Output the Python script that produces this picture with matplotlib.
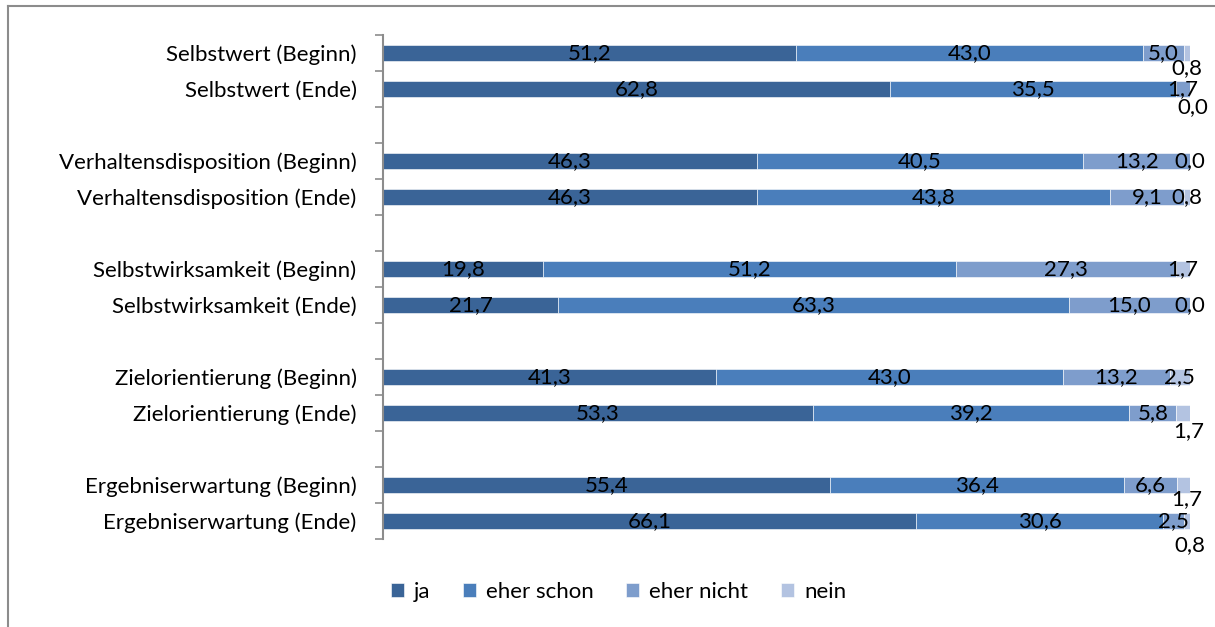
import numpy as np
import matplotlib.pyplot as plt
from matplotlib.lines import Line2D

plt.rcParams['font.family'] = ['Lato', 'DejaVu Sans']

CATEGORIES = ["Selbstwert (Beginn)", "Selbstwert (Ende)",
              "Verhaltensdisposition (Beginn)", "Verhaltensdisposition (Ende)",
              "Selbstwirksamkeit (Beginn)", "Selbstwirksamkeit (Ende)",
              "Zielorientierung (Beginn)", "Zielorientierung (Ende)",
              "Ergebniserwartung (Beginn)", "Ergebniserwartung (Ende)"]
SERIES = ["ja", "eher schon", "eher nicht", "nein"]
JA = [51.2, 62.8, 46.3, 46.3, 19.8, 21.7, 41.3, 53.3, 55.4, 66.1]
EHER_SCHON = [43.0, 35.5, 40.5, 43.8, 51.2, 63.3, 43.0, 39.2, 36.4, 30.6]
EHER_NICHT = [5.0, 1.7, 13.2, 9.1, 27.3, 15.0, 13.2, 5.8, 6.6, 2.5]
NEIN = [0.8, 0.0, 0.0, 0.8, 1.7, 0.0, 2.5, 1.7, 1.7, 0.8]

COLORS = ["#3A6497", "#4A7EBB", "#7E9DCC", "#B3C3E1"]
FS = 16

# label nudges in points (category index, series index) -> (dx, dy)
NUDGE = {(0, 3): (0, -11), (1, 3): (2, -13), (7, 3): (4, -13),
         (8, 3): (2, -10), (9, 3): (2, -17)}

fig = plt.figure(figsize=(12.15, 6.27), dpi=100)
ax = fig.add_axes([383 / 1215, 1 - 539 / 627, 807 / 1215, 504 / 627])

# slots: two bars per group, one empty slot between groups
slots = []
for g in range(5):
    slots += [3 * g, 3 * g + 1]
slots = np.array(slots)

values = np.array([JA, EHER_SCHON, EHER_NICHT, NEIN])
left = np.zeros(len(CATEGORIES))
for s, (name, col) in enumerate(zip(SERIES, COLORS)):
    ax.barh(slots, values[s], left=left, height=0.42, color=col,
            edgecolor="white", linewidth=0.4, label=name)
    for i, v in enumerate(values[s]):
        dx, dy = NUDGE.get((i, s), (0, 0))
        ax.annotate(f"{v:.1f}".replace(".", ","),
                    (left[i] + v / 2, slots[i]), xytext=(dx, dy),
                    textcoords="offset points", ha="center", va="center",
                    fontsize=FS, color="black")
    left += values[s]

ax.set_xlim(0, 100)
ax.set_ylim(13.5, -0.5)
ax.set_yticks(slots)
ax.set_yticklabels(CATEGORIES, fontsize=FS)
ax.tick_params(axis="y", length=0, pad=19)
ax.set_yticks(np.arange(-0.5, 14, 1), minor=True)
ax.tick_params(axis="y", which="minor", length=6, color="#8C8C8C", width=1.2)
ax.set_xticks([])
for sp in ["top", "right", "bottom"]:
    ax.spines[sp].set_visible(False)
ax.spines["left"].set_color("#8C8C8C")
ax.spines["left"].set_linewidth(1.5)

fig.legend(loc="center", bbox_to_anchor=(0.509, 1 - 592 / 627), ncol=4,
           frameon=False, fontsize=FS, handlelength=0.6, handleheight=0.6,
           handletextpad=0.45, columnspacing=1.45)

# chart area border (left and top only visible)
fig.add_artist(Line2D([8 / 1215, 8 / 1215], [0, 1 - 6 / 627], color="#8C8C8C", lw=1.5))
fig.add_artist(Line2D([8 / 1215, 1], [1 - 6 / 627, 1 - 6 / 627], color="#8C8C8C", lw=1.5))

fig.savefig("out.png", dpi=100)
